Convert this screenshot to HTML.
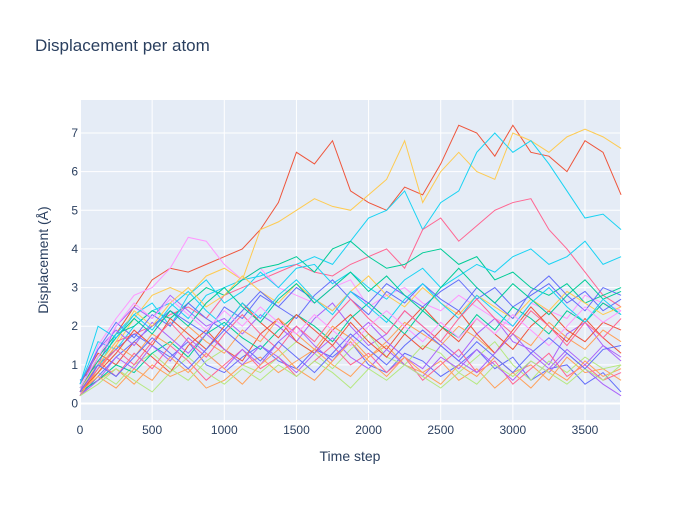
<!DOCTYPE html>
<html><head><meta charset="utf-8"><style>
body{margin:0;background:#fff;font-family:"Liberation Sans",sans-serif}
svg text{font-family:"Liberation Sans",sans-serif;fill:#2a3f5f}
</style></head><body>
<svg id="chart" width="700" height="500">
<text x="35" y="51" font-size="17">Displacement per atom</text>
<rect x="80" y="100" width="540" height="320" fill="#e5ecf6"/>
<g id="grid"></g><g id="lines"></g><g id="ticks"></g>
<text x="350" y="461" font-size="14" text-anchor="middle">Time step</text>
<text transform="translate(48,260) rotate(-90)" font-size="14" text-anchor="middle">Displacement (Å)</text>
</svg>
<script>
const xTicks=[0,500,1000,1500,2000,2500,3000,3500];
const yTicks=[0,1,2,3,4,5,6,7];
const timeStep=125;
const colors=["#EF553B","#FECB52","#19d3f3","#FF6692","#FF97FF","#00cc96","#636efa","#FFA15A","#ab63fa","#B6E880","#EF553B","#19d3f3","#636efa","#00cc96","#FF6692","#FFA15A","#ab63fa","#FECB52","#636efa","#EF553B","#00cc96","#ab63fa","#FFA15A","#19d3f3","#FF6692","#B6E880","#FF97FF","#636efa"];
const s0=[0.3,1.2,1.8,2.5,3.2,3.5,3.4,3.6,3.8,4.0,4.5,5.2,6.5,6.2,6.8,5.5,5.2,5.0,5.6,5.4,6.2,7.2,7.0,6.4,7.2,6.5,6.4,6.0,6.8,6.5,5.4];
const s1=[0.2,0.8,1.5,2.2,2.8,3.0,2.8,3.3,3.5,3.2,4.5,4.7,5.0,5.3,5.1,5.0,5.4,5.8,6.8,5.2,6.0,6.5,6.0,5.8,7.0,6.8,6.5,6.9,7.1,6.9,6.6];
const s2=[0.5,1.6,1.4,2.0,2.4,2.6,2.2,2.8,3.0,3.2,3.3,3.5,3.6,3.8,3.6,4.2,4.8,5.0,5.5,4.5,5.2,5.5,6.5,7.0,6.5,6.8,6.2,5.5,4.8,4.9,4.5];
const s3=[0.3,1.0,1.6,1.8,2.0,2.3,2.5,2.2,2.8,3.0,3.2,3.4,3.6,3.4,3.3,3.6,3.8,4.0,3.5,4.5,4.8,4.2,4.6,5.0,5.2,5.3,4.5,4.0,3.4,2.8,2.5];
const s4=[0.2,1.5,2.2,2.8,3.0,3.5,4.3,4.2,3.6,3.2,3.5,3.0,2.8,2.6,3.0,3.2,2.5,2.8,3.0,2.6,2.4,2.8,2.5,2.2,2.0,2.6,2.4,2.2,2.8,2.6,2.4];
const s5=[0.4,1.2,1.8,2.0,2.4,2.2,2.6,3.0,2.8,3.2,3.5,3.6,3.8,3.4,4.0,4.2,3.8,3.5,3.6,3.9,4.0,3.6,3.8,3.2,3.4,3.0,2.8,3.1,2.6,2.8,3.0];
const s6=[0.6,1.0,1.4,1.8,1.5,1.2,1.6,1.0,0.8,1.2,1.5,1.1,0.9,1.4,1.2,1.6,1.0,0.8,1.3,1.1,0.7,1.0,1.4,0.9,1.2,0.6,0.9,1.0,0.5,0.8,0.3];
const s7=[0.3,0.6,0.9,0.5,1.0,0.7,0.9,0.4,0.6,1.0,1.2,0.8,1.1,1.4,1.0,0.7,1.2,1.5,1.0,0.8,1.1,0.6,0.9,0.4,0.8,1.0,0.6,1.2,0.8,0.9,0.6];
const s8=[0.2,1.0,2.0,2.5,2.2,2.8,2.4,2.0,2.2,1.8,2.3,2.0,1.6,2.2,2.6,2.0,1.5,1.8,2.4,2.0,1.6,1.2,1.8,2.2,1.6,1.4,1.0,1.8,2.1,1.5,1.2];
const s9=[0.4,0.8,0.5,1.0,1.3,0.9,0.6,1.1,1.4,1.0,0.8,1.2,1.6,1.3,0.9,1.4,1.8,1.2,1.0,1.5,1.3,0.8,1.2,1.6,1.0,0.6,1.1,0.8,1.2,0.9,1.0];
const s10=[0.5,1.3,1.0,1.6,1.2,0.8,1.5,1.9,1.4,1.1,1.8,2.2,1.6,1.3,1.9,2.3,1.8,1.4,2.0,2.5,2.0,1.6,2.2,1.8,1.4,2.0,2.4,1.9,1.6,2.1,1.9];
const s11=[0.3,0.9,1.8,2.3,2.6,2.0,2.8,3.2,2.6,2.9,3.4,3.0,3.5,3.6,3.1,3.4,3.0,2.7,3.2,3.5,3.0,3.3,3.6,3.4,3.8,4.0,3.6,3.8,4.2,3.6,3.8];
const s12=[0.2,0.7,1.2,1.6,2.0,2.4,2.1,1.8,2.5,2.2,2.8,2.5,3.0,2.7,2.4,2.9,2.6,3.1,2.8,2.5,2.9,3.2,2.7,3.0,2.5,2.8,3.1,2.6,2.9,2.4,2.7];
const s13=[0.3,0.6,1.0,0.8,1.3,1.6,1.2,1.8,2.1,1.7,1.4,1.9,2.3,2.0,1.6,2.2,2.6,2.2,1.8,2.4,2.0,1.7,2.3,1.9,2.5,2.2,1.8,2.4,2.1,2.6,2.3];
const s14=[0.4,1.1,0.7,1.3,0.9,1.5,1.1,0.6,1.0,1.4,0.9,1.2,0.7,1.1,1.5,1.0,1.3,0.8,1.2,0.6,1.0,1.4,0.8,1.1,0.5,0.9,1.3,0.7,1.0,0.6,0.8];
const s15=[0.2,0.9,1.5,1.2,1.8,1.5,2.0,1.6,1.3,1.9,1.6,2.2,1.8,1.4,2.0,1.7,1.2,1.6,2.1,1.8,1.5,2.0,1.7,1.3,1.8,1.5,2.1,1.7,1.4,1.9,1.6];
const s16=[0.3,1.4,1.9,1.5,2.1,1.7,1.3,1.8,1.4,1.0,1.5,1.2,0.8,1.3,1.7,1.2,0.9,1.4,1.0,0.7,1.2,0.9,1.4,1.0,0.6,1.1,0.8,1.3,0.9,0.5,0.2];
const s17=[0.4,1.0,1.6,2.4,2.0,2.6,3.0,2.5,2.8,3.3,2.9,2.6,3.1,2.7,2.4,2.9,3.3,2.8,2.5,3.0,2.6,2.3,2.8,2.5,2.2,2.7,2.4,2.9,2.6,2.3,2.5];
const s18=[0.5,1.4,2.1,1.7,2.3,2.0,2.6,2.2,1.9,2.4,2.9,2.5,2.2,2.8,3.2,2.7,2.3,2.9,2.6,3.1,2.7,2.4,3.0,2.6,2.2,2.9,3.3,2.8,2.4,3.0,2.8];
const s19=[0.3,0.8,1.3,1.9,1.5,2.2,1.8,1.4,2.0,2.6,2.1,1.7,2.3,1.9,1.5,2.1,1.6,1.2,1.8,1.4,1.9,2.4,1.8,1.3,1.9,2.5,2.0,1.6,2.2,1.7,1.3];
const s20=[0.4,1.1,1.7,2.2,1.8,2.4,2.0,2.6,3.0,2.5,2.1,2.7,3.1,2.6,3.0,3.4,2.9,3.3,2.8,2.4,3.0,3.5,3.0,2.6,3.1,2.7,2.3,2.8,3.2,2.7,2.9];
const s21=[0.2,0.6,1.2,0.9,1.5,1.1,1.7,1.3,0.9,1.4,1.0,1.6,2.0,1.5,1.1,1.7,2.1,1.6,1.2,0.9,1.5,1.1,0.8,1.3,1.8,1.3,0.9,1.4,1.0,1.5,1.1];
const s22=[0.3,0.7,0.4,0.9,0.6,1.2,0.8,1.3,0.9,0.5,1.0,1.4,0.9,0.6,1.1,1.6,1.1,0.7,1.2,0.8,0.5,1.0,0.7,1.2,0.8,0.4,0.9,0.6,1.1,0.7,0.9];
const s23=[0.5,2.0,1.7,2.3,1.9,2.5,2.9,2.4,2.0,2.6,2.2,2.8,3.2,2.7,2.3,2.9,2.5,2.1,2.7,3.1,2.6,2.2,2.8,2.4,2.0,2.6,3.0,2.5,2.1,2.7,2.3];
const s24=[0.3,0.9,1.4,1.0,1.6,2.1,1.6,1.2,1.8,2.3,1.8,1.4,2.0,1.6,2.2,2.7,2.2,1.8,2.4,2.0,1.6,2.2,2.7,2.2,1.8,2.4,2.0,1.5,2.1,1.7,2.2];
const s25=[0.2,0.5,0.9,0.6,0.3,0.8,1.2,0.8,0.5,0.9,0.6,1.0,0.7,1.1,0.8,0.4,0.9,0.6,1.0,0.7,0.4,0.8,0.5,1.0,0.7,1.1,0.8,0.5,0.9,0.6,1.0];
const s26=[0.4,1.2,2.0,2.6,2.2,2.7,2.3,1.9,2.4,2.0,2.5,2.1,1.8,2.3,1.9,1.5,2.0,2.4,2.0,1.6,2.1,1.7,2.2,1.8,2.3,1.9,1.5,2.0,2.5,2.1,2.4];
const s27=[0.3,1.0,0.7,1.2,1.7,1.3,0.9,1.4,1.9,1.5,1.1,1.6,1.2,0.8,1.3,1.8,1.4,1.0,1.5,1.9,1.5,1.1,1.6,1.2,0.8,1.3,1.7,1.3,0.9,1.4,1.5];
const series=[s0,s1,s2,s3,s4,s5,s6,s7,s8,s9,s10,s11,s12,s13,s14,s15,s16,s17,s18,s19,s20,s21,s22,s23,s24,s25,s26,s27];
const NS="http://www.w3.org/2000/svg";
const X=v=>80+v*(505/3500);
const Y=v=>403.5-v*(270.5/7);
const grid=document.getElementById('grid'),ticks=document.getElementById('ticks'),lines=document.getElementById('lines');
xTicks.forEach(t=>{
 const l=document.createElementNS(NS,'line');
 
 
 l.setAttribute('x1',X(t));l.setAttribute('x2',X(t));l.setAttribute('y1',100);l.setAttribute('y2',420);
 l.setAttribute('stroke','#fff');l.setAttribute('stroke-width',t===0?2:1);grid.appendChild(l);
 const tx=document.createElementNS(NS,'text');
 
 
 tx.setAttribute('x',X(t));tx.setAttribute('y',434);tx.setAttribute('font-size',12);tx.setAttribute('text-anchor','middle');
 tx.textContent=t;ticks.appendChild(tx);
});
yTicks.forEach(t=>{
 const l=document.createElementNS(NS,'line');
 
 
 l.setAttribute('x1',80);l.setAttribute('x2',620);l.setAttribute('y1',Y(t));l.setAttribute('y2',Y(t));
 l.setAttribute('stroke','#fff');l.setAttribute('stroke-width',t===0?2:1);grid.appendChild(l);
 const tx=document.createElementNS(NS,'text');
 
 
 tx.setAttribute('x',78);tx.setAttribute('y',Y(t)+4);tx.setAttribute('font-size',12);tx.setAttribute('text-anchor','end');
 tx.textContent=t;ticks.appendChild(tx);
});
series.forEach((s,i)=>{
 const p=document.createElementNS(NS,'polyline');
 
 
 p.setAttribute('points',s.map((v,j)=>X(j*timeStep)+','+Y(v)).join(' '));
 p.setAttribute('fill','none');p.setAttribute('stroke',colors[i%colors.length]);p.setAttribute('stroke-width',1);
 lines.appendChild(p);
});
</script>
</body></html>
